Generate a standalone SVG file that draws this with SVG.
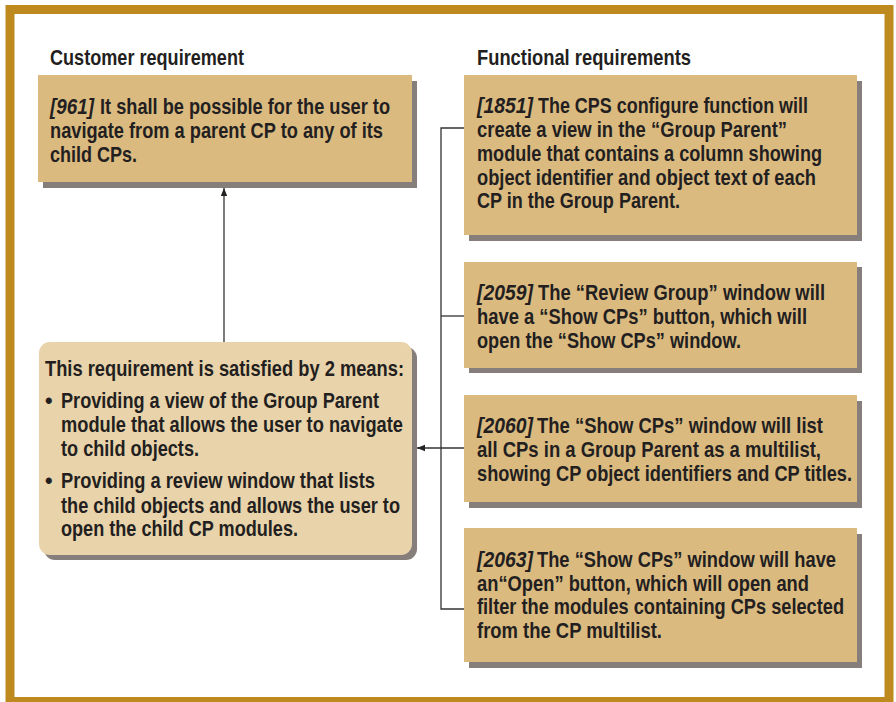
<svg xmlns="http://www.w3.org/2000/svg" width="896" height="702" viewBox="0 0 896 702">
<style>
text{font-family:"Liberation Sans Narrow","Liberation Sans",Arial,sans-serif;font-weight:bold;font-size:21.5px;fill:#231f20}
.i{font-style:italic}
.box{fill:#dbba80}
.sh{fill:#867e7a}
.conn{stroke:#333;stroke-width:1.3;fill:none}
</style>
<defs>
<marker id="ah" viewBox="0 0 10 10" refX="10" refY="5" markerWidth="10" markerHeight="8" markerUnits="userSpaceOnUse" orient="auto">
<path d="M0,1 L10,5 L0,9 z" fill="#222"/>
</marker>
</defs>
<rect x="0" y="0" width="896" height="702" fill="#fff"/>
<rect x="10" y="9.5" width="879" height="692" fill="#fff" stroke="#be8a1f" stroke-width="9"/>

<text x="50" y="65" textLength="194" lengthAdjust="spacingAndGlyphs">Customer requirement</text>
<text x="477" y="65" textLength="214" lengthAdjust="spacingAndGlyphs">Functional requirements</text>

<g id="connectors">
<line class="conn" x1="224" y1="342" x2="224" y2="188" marker-end="url(#ah)"/>
<polyline class="conn" points="464,128 441,128 441,609 464,609"/>
<line class="conn" x1="441" y1="316" x2="464" y2="316"/>
<line class="conn" x1="464" y1="448" x2="417" y2="448" marker-end="url(#ah)"/>
</g>

<g id="cr961">
<rect class="sh" x="43" y="81" width="374" height="107"/>
<rect class="box" x="38" y="75" width="374" height="107"/>
<text class="i" x="50" y="114" textLength="44" lengthAdjust="spacingAndGlyphs">[961]</text>
<text x="100" y="114" textLength="290" lengthAdjust="spacingAndGlyphs">It shall be possible for the user to</text>
<text x="50" y="138" textLength="333" lengthAdjust="spacingAndGlyphs">navigate from a parent CP to any of its</text>
<text x="50" y="162" textLength="87" lengthAdjust="spacingAndGlyphs">child CPs.</text>
</g>

<g id="means">
<rect class="sh" x="44" y="347" width="373" height="213" rx="11"/>
<rect x="39" y="342" width="373" height="213" rx="11" fill="#e9d3ab"/>
<text x="45" y="376" textLength="359" lengthAdjust="spacingAndGlyphs">This requirement is satisfied by 2 means:</text>
<text x="45" y="408">•</text>
<text x="61" y="408" textLength="318" lengthAdjust="spacingAndGlyphs">Providing a view of the Group Parent</text>
<text x="61" y="432" textLength="342" lengthAdjust="spacingAndGlyphs">module that allows the user to navigate</text>
<text x="61" y="456" textLength="138" lengthAdjust="spacingAndGlyphs">to child objects.</text>
<text x="45" y="488">•</text>
<text x="61" y="488" textLength="314" lengthAdjust="spacingAndGlyphs">Providing a review window that lists</text>
<text x="61" y="513" textLength="339" lengthAdjust="spacingAndGlyphs">the child objects and allows the user to</text>
<text x="61" y="536" textLength="237" lengthAdjust="spacingAndGlyphs">open the child CP modules.</text>
</g>

<g id="fr1851">
<rect class="sh" x="469" y="81" width="393" height="160"/>
<rect class="box" x="464" y="75" width="393" height="160"/>
<text class="i" x="477" y="113" textLength="56" lengthAdjust="spacingAndGlyphs">[1851]</text>
<text x="538" y="113" textLength="270" lengthAdjust="spacingAndGlyphs">The CPS configure function will</text>
<text x="477" y="137" textLength="310" lengthAdjust="spacingAndGlyphs">create a view in the “Group Parent”</text>
<text x="477" y="161" textLength="345" lengthAdjust="spacingAndGlyphs">module that contains a column showing</text>
<text x="477" y="185" textLength="339" lengthAdjust="spacingAndGlyphs">object identifier and object text of each</text>
<text x="477" y="208" textLength="203" lengthAdjust="spacingAndGlyphs">CP in the Group Parent.</text>
</g>

<g id="fr2059">
<rect class="sh" x="469" y="267" width="393" height="106"/>
<rect class="box" x="464" y="262" width="393" height="106"/>
<text class="i" x="477" y="300" textLength="56" lengthAdjust="spacingAndGlyphs">[2059]</text>
<text x="538" y="300" textLength="287" lengthAdjust="spacingAndGlyphs">The “Review Group” window will</text>
<text x="477" y="324" textLength="330" lengthAdjust="spacingAndGlyphs">have a “Show CPs” button, which will</text>
<text x="477" y="348" textLength="264" lengthAdjust="spacingAndGlyphs">open the “Show CPs” window.</text>
</g>

<g id="fr2060">
<rect class="sh" x="469" y="401" width="393" height="107"/>
<rect class="box" x="464" y="395" width="393" height="107"/>
<text class="i" x="477" y="433" textLength="56" lengthAdjust="spacingAndGlyphs">[2060]</text>
<text x="537" y="433" textLength="286" lengthAdjust="spacingAndGlyphs">The “Show CPs” window will list</text>
<text x="477" y="457" textLength="344" lengthAdjust="spacingAndGlyphs">all CPs in a Group Parent as a multilist,</text>
<text transform="translate(477,481) scale(0.846,1)" x="0" y="0" textLength="443.3" lengthAdjust="spacingAndGlyphs">showing CP object identifiers and CP titles.</text>
</g>

<g id="fr2063">
<rect class="sh" x="469" y="534" width="393" height="134"/>
<rect class="box" x="464" y="528" width="393" height="134"/>
<text class="i" x="477" y="567" textLength="56" lengthAdjust="spacingAndGlyphs">[2063]</text>
<text x="537" y="567" textLength="299" lengthAdjust="spacingAndGlyphs">The “Show CPs” window will have</text>
<text x="477" y="591" textLength="332" lengthAdjust="spacingAndGlyphs">an“Open” button, which will open and</text>
<text transform="translate(477,614) scale(0.846,1)" x="0" y="0" textLength="433.8" lengthAdjust="spacingAndGlyphs">filter the modules containing CPs selected</text>
<text x="477" y="638" textLength="185" lengthAdjust="spacingAndGlyphs">from the CP multilist.</text>
</g>
</svg>
